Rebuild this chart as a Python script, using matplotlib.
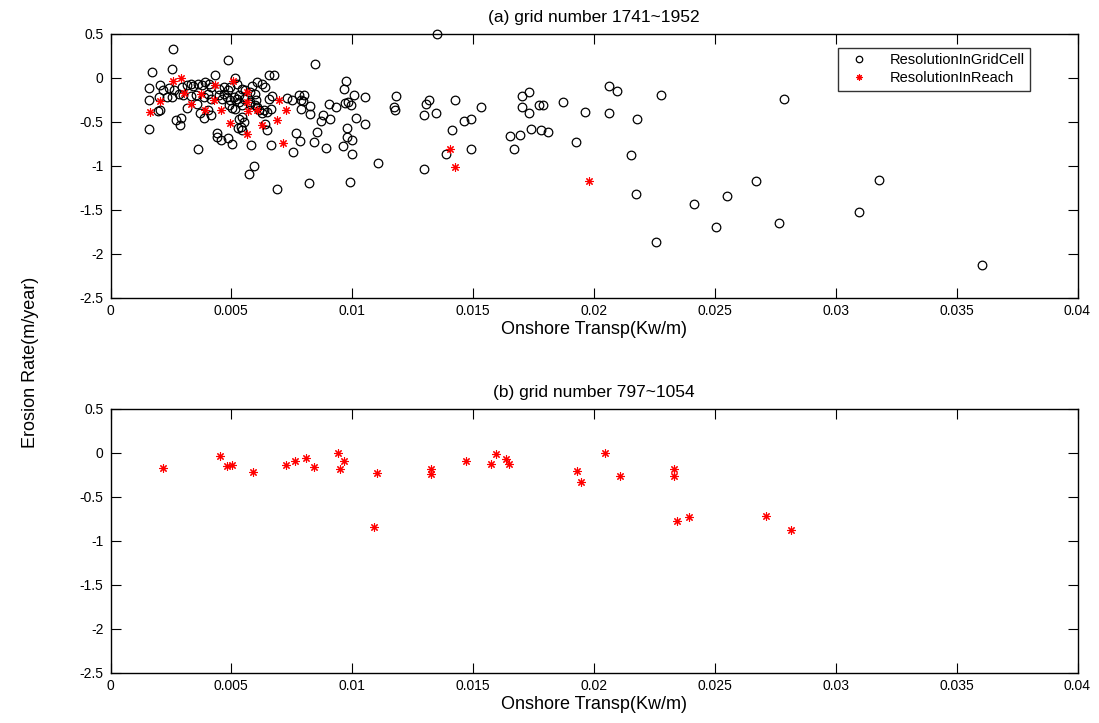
import matplotlib
matplotlib.use("Agg")
import matplotlib.pyplot as plt
from matplotlib.ticker import FixedLocator, FixedFormatter

plt.rcParams['font.family'] = ['Liberation Sans', 'DejaVu Sans']
plt.rcParams['axes.unicode_minus'] = False

# (a) ResolutionInGridCell
gc_x = [0.00259,0.00255,0.00172,0.00487,0.00161,0.00203,0.00159,0.00200,0.00197,0.00203,0.00161,0.00218,0.00241,0.00262,0.00255,0.00234,0.00272,0.00290,0.00287,0.00364,0.00317,0.00358,0.00434,0.00513,0.00296,0.00317,0.00331,0.00342,0.00361,0.00379,0.00390,0.00407,0.00414,0.00448,0.00469,0.00485,0.00496,0.00524,0.00545,0.00558,0.00586,0.00607,0.00627,0.00641,0.00579,0.00596,0.00283,0.00301,0.00331,0.00352,0.00386,0.00403,0.00414,0.00448,0.00462,0.00469,0.00483,0.00494,0.00510,0.00524,0.00531,0.00552,0.00576,0.00600,0.00489,0.00503,0.00513,0.00531,0.00545,0.00579,0.00596,0.00607,0.00614,0.00627,0.00634,0.00648,0.00403,0.00372,0.00386,0.00414,0.00531,0.00545,0.00552,0.00538,0.00441,0.00441,0.00459,0.00485,0.00503,0.00545,0.00528,0.00582,0.00593,0.00572,
        0.01349,0.00845,0.00655,0.00676,0.00976,0.00964,0.01009,0.01052,0.01183,0.01172,0.01178,0.01306,0.01317,0.01296,0.01347,0.00972,0.00982,0.00993,0.00931,0.00903,0.00877,0.00869,0.00910,0.01014,0.01052,0.00979,0.00827,0.00825,0.00789,0.00779,0.00800,0.00786,0.00797,0.00749,0.00731,0.00669,0.00655,0.00662,0.00641,0.00648,0.00768,0.00783,0.00855,0.00841,0.00662,0.00756,0.00893,0.00979,0.01000,0.00961,0.01000,0.01107,0.01296,0.00990,0.00823,0.00687,
        0.01426,0.01531,0.01490,0.01462,0.01413,0.01386,0.01490,0.01703,0.01733,0.01703,0.01733,0.01772,0.01790,0.01740,0.01779,0.01809,0.01651,0.01693,0.01668,0.01872,0.01962,0.01926,0.02064,0.02096,0.02063,0.02179,0.02151,0.02172,0.02278,
        0.02785,0.02671,0.02551,0.03178,0.02767,0.03095,0.03603,0.02256,0.02414,0.02504]
gc_y = [0.327,0.100,0.063,0.202,-0.115,-0.081,-0.251,-0.221,-0.379,-0.371,-0.590,-0.145,-0.115,-0.145,-0.221,-0.221,-0.485,-0.455,-0.541,-0.817,-0.341,-0.304,0.025,-0.005,-0.107,-0.088,-0.069,-0.100,-0.077,-0.088,-0.051,-0.069,-0.107,-0.126,-0.107,-0.137,-0.107,-0.069,-0.126,-0.137,-0.100,-0.051,-0.069,-0.107,-0.164,-0.183,-0.183,-0.202,-0.213,-0.202,-0.221,-0.190,-0.239,-0.202,-0.239,-0.183,-0.221,-0.258,-0.221,-0.239,-0.202,-0.239,-0.277,-0.258,-0.315,-0.341,-0.356,-0.277,-0.315,-0.296,-0.315,-0.334,-0.372,-0.409,-0.364,-0.390,-0.364,-0.409,-0.455,-0.428,-0.466,-0.447,-0.504,-0.560,-0.636,-0.681,-0.711,-0.692,-0.757,-0.598,-0.572,-0.768,-1.006,-1.096,
        0.497,0.157,0.032,0.032,-0.043,-0.126,-0.202,-0.221,-0.209,-0.334,-0.371,-0.296,-0.258,-0.421,-0.405,-0.288,-0.277,-0.315,-0.334,-0.296,-0.428,-0.492,-0.466,-0.458,-0.534,-0.572,-0.322,-0.417,-0.353,-0.202,-0.202,-0.251,-0.266,-0.251,-0.232,-0.209,-0.239,-0.360,-0.523,-0.598,-0.636,-0.719,-0.624,-0.730,-0.768,-0.843,-0.798,-0.681,-0.711,-0.775,-0.874,-0.976,-1.040,-1.183,-1.194,-1.266,
        -0.251,-0.334,-0.477,-0.496,-0.598,-0.874,-0.817,-0.205,-0.168,-0.334,-0.402,-0.315,-0.315,-0.583,-0.598,-0.624,-0.666,-0.658,-0.809,-0.281,-0.387,-0.738,-0.096,-0.156,-0.405,-0.477,-0.881,-1.327,-0.198,
        -0.243,-1.176,-1.345,-1.164,-1.648,-1.527,-2.135,-1.870,-1.433,-1.700]

# (a) ResolutionInReach
rr_x = [0.00290,0.00259,0.00163,0.00204,0.00306,0.00331,0.00375,0.00427,0.00434,0.00390,0.00459,0.00507,0.00496,0.00565,0.00563,0.00569,0.00607,0.00627,0.00565,0.00699,0.00724,0.00689,0.00714,0.01404,0.01427,0.01981]
rr_y = [-0.005,-0.039,-0.390,-0.266,-0.175,-0.296,-0.190,-0.251,-0.088,-0.371,-0.371,-0.039,-0.515,-0.164,-0.277,-0.383,-0.371,-0.541,-0.643,-0.251,-0.371,-0.485,-0.741,-0.813,-1.021,-1.172]

# (b) grid number 797~1054
b_x = [0.00218,0.00455,0.00483,0.00501,0.00590,0.00724,0.00765,0.00810,0.00841,0.00939,0.00949,0.00967,0.01103,0.01091,0.01324,0.01324,0.01470,0.01572,0.01594,0.01635,0.01648,0.01930,0.01945,0.02046,0.02108,0.02331,0.02331,0.02344,0.02393,0.02710,0.02813]
b_y = [-0.177,-0.037,-0.150,-0.143,-0.226,-0.143,-0.094,-0.064,-0.169,0.000,-0.188,-0.094,-0.233,-0.841,-0.188,-0.245,-0.094,-0.132,-0.018,-0.075,-0.132,-0.211,-0.332,-0.003,-0.264,-0.188,-0.264,-0.781,-0.728,-0.717,-0.875]

xticks = [0, 0.005, 0.01, 0.015, 0.02, 0.025, 0.03, 0.035, 0.04]
xticklabels = ['0', '0.005', '0.01', '0.015', '0.02', '0.025', '0.03', '0.035', '0.04']
yticks = [-2.5, -2, -1.5, -1, -0.5, 0, 0.5]
yticklabels = ['-2.5', '-2', '-1.5', '-1', '-0.5', '0', '0.5']

titles = ['(a) grid number 1741~1952', '(b) grid number 797~1054']
xlabel = 'Onshore Transp(Kw/m)'
ylabel = 'Erosion Rate(m/year)'
legend_labels = ['ResolutionInGridCell', 'ResolutionInReach']

W, H = 1099, 723
fig = plt.figure(figsize=(W / 100, H / 100), dpi=100)
ax1 = fig.add_axes([110.5 / W, 1 - 297.5 / H, 967 / W, 264 / H])
ax2 = fig.add_axes([110.5 / W, 1 - 672.5 / H, 967 / W, 264 / H])

star = (8, 2, 0)

ax1.plot(gc_x, gc_y, linestyle='none', marker='o', markersize=6.2,
         markerfacecolor='none', markeredgecolor='black', markeredgewidth=0.9,
         label=legend_labels[0], clip_on=False)
ax1.plot(rr_x, rr_y, linestyle='none', marker=star, markersize=6,
         markeredgecolor='red', markerfacecolor='red', markeredgewidth=0.8,
         label=legend_labels[1], clip_on=False)
ax2.plot(b_x, b_y, linestyle='none', marker=star, markersize=6,
         markeredgecolor='red', markerfacecolor='red', markeredgewidth=0.8,
         clip_on=False)

for ax, t in zip([ax1, ax2], titles):
    ax.set_xlim(0, 0.04)
    ax.set_ylim(-2.5, 0.5)
    ax.xaxis.set_major_locator(FixedLocator(xticks))
    ax.xaxis.set_major_formatter(FixedFormatter(xticklabels))
    ax.yaxis.set_major_locator(FixedLocator(yticks))
    ax.yaxis.set_major_formatter(FixedFormatter(yticklabels))
    ax.tick_params(direction='in', length=7, width=0.8, top=True, right=True,
                   labelsize=10, pad=5, colors='black')
    for s in ax.spines.values():
        s.set_linewidth(1.0)
    ax.set_title(t, fontsize=12.5, pad=8)
    ax.set_xlabel(xlabel, fontsize=13, labelpad=2)

leg = ax1.legend(loc='upper right', bbox_to_anchor=(1030 / W, 1 - 48 / H),
                 bbox_transform=fig.transFigure, fontsize=10.5, frameon=True,
                 fancybox=False, edgecolor='black', markerscale=0.75,
                 handlelength=2.2, borderpad=0.35, labelspacing=0.3,
                 handletextpad=1.0, borderaxespad=0)
leg.get_frame().set_linewidth(1.0)

fig.text(31 / W, 1 - 362 / H, ylabel, rotation=90, ha='center', va='center',
         fontsize=13)

fig.savefig('out.png', dpi=100)
